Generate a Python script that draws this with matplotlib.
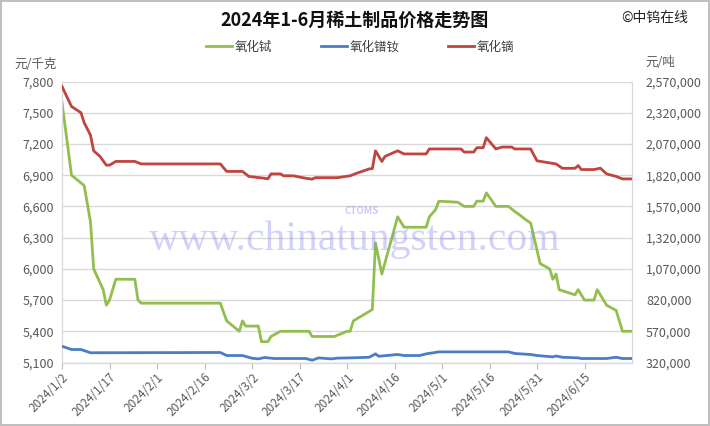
import matplotlib
matplotlib.use("Agg")
import matplotlib.pyplot as plt
import matplotlib.ticker as mticker
import pandas as pd

plt.rcParams['font.family'] = ['Noto Sans CJK SC', 'DejaVu Sans']

# 氧化铽 (元/千克, left axis)
tb_dates = ['2024-01-02', '2024-01-05', '2024-01-09', '2024-01-11', '2024-01-12', '2024-01-15',
            '2024-01-16', '2024-01-17', '2024-01-19', '2024-01-25', '2024-01-26', '2024-01-27',
            '2024-02-21', '2024-02-23', '2024-02-27', '2024-02-28', '2024-02-29', '2024-03-04',
            '2024-03-05', '2024-03-07', '2024-03-08', '2024-03-11', '2024-03-20', '2024-03-21',
            '2024-03-28', '2024-04-01', '2024-04-02', '2024-04-03', '2024-04-08', '2024-04-09',
            '2024-04-10', '2024-04-12', '2024-04-17', '2024-04-19', '2024-04-26', '2024-04-27',
            '2024-04-29', '2024-04-30', '2024-05-06', '2024-05-08', '2024-05-11', '2024-05-12',
            '2024-05-14', '2024-05-15', '2024-05-18', '2024-05-22', '2024-05-24', '2024-05-25',
            '2024-05-28', '2024-05-29', '2024-06-01', '2024-06-04', '2024-06-05', '2024-06-06',
            '2024-06-07', '2024-06-12', '2024-06-13', '2024-06-15', '2024-06-18', '2024-06-19',
            '2024-06-22', '2024-06-25', '2024-06-27', '2024-06-30']
tb_price = [7600, 6900, 6800, 6450, 6000, 5800,
            5650, 5700, 5900, 5900, 5700, 5670,
            5670, 5500, 5400, 5500, 5450, 5450,
            5300, 5300, 5350, 5400, 5400, 5350,
            5350, 5400, 5400, 5500, 5590, 5610,
            6250, 5950, 6500, 6400, 6400, 6500,
            6570, 6650, 6640, 6600, 6600, 6650,
            6650, 6730, 6600, 6600, 6550, 6530,
            6460, 6440, 6050, 6000, 5900, 5950,
            5800, 5750, 5800, 5700, 5700, 5800,
            5650, 5600, 5400, 5400]

# 氧化镨钕 (元/吨, right axis)
prnd_dates = ['2024-01-02', '2024-01-05', '2024-01-08', '2024-01-11', '2024-02-21', '2024-02-23',
              '2024-02-28', '2024-03-02', '2024-03-04', '2024-03-06', '2024-03-09', '2024-03-19',
              '2024-03-21', '2024-03-23', '2024-03-27', '2024-03-29', '2024-04-02', '2024-04-08',
              '2024-04-10', '2024-04-11', '2024-04-17', '2024-04-19', '2024-04-24', '2024-04-26',
              '2024-04-30', '2024-05-22', '2024-05-24', '2024-05-29', '2024-05-31', '2024-06-05',
              '2024-06-06', '2024-06-08', '2024-06-13', '2024-06-14', '2024-06-22', '2024-06-25',
              '2024-06-27', '2024-06-30']
prnd_price = [450000, 424000, 424000, 398000, 400000, 376000,
              376000, 354000, 349000, 360000, 352000, 352000,
              338000, 357000, 349000, 355000, 357000, 362000,
              389000, 370000, 384000, 376000, 376000, 389000,
              405000, 405000, 392000, 384000, 376000, 365000,
              372000, 362000, 357000, 352000, 352000, 362000,
              352000, 352000]

# 氧化镝 (元/吨, right axis)
dy_dates = ['2024-01-02', '2024-01-05', '2024-01-08', '2024-01-09', '2024-01-11', '2024-01-12',
            '2024-01-14', '2024-01-16', '2024-01-17', '2024-01-19', '2024-01-25', '2024-01-27',
            '2024-02-21', '2024-02-23', '2024-02-28', '2024-03-01', '2024-03-06', '2024-03-07',
            '2024-03-08', '2024-03-11', '2024-03-12', '2024-03-15', '2024-03-19', '2024-03-21',
            '2024-03-22', '2024-03-29', '2024-04-02', '2024-04-04', '2024-04-08', '2024-04-09',
            '2024-04-10', '2024-04-12', '2024-04-13', '2024-04-17', '2024-04-19', '2024-04-26',
            '2024-04-27', '2024-05-07', '2024-05-08', '2024-05-11', '2024-05-12', '2024-05-14',
            '2024-05-15', '2024-05-18', '2024-05-20', '2024-05-23', '2024-05-24', '2024-05-29',
            '2024-05-31', '2024-06-06', '2024-06-08', '2024-06-12', '2024-06-13', '2024-06-14',
            '2024-06-18', '2024-06-20', '2024-06-22', '2024-06-25', '2024-06-27', '2024-06-30']
dy_price = [2530000, 2370000, 2320000, 2240000, 2140000, 2015000,
            1970000, 1900000, 1900000, 1930000, 1930000, 1910000,
            1910000, 1850000, 1850000, 1810000, 1795000, 1790000,
            1830000, 1830000, 1815000, 1815000, 1795000, 1788000,
            1800000, 1800000, 1815000, 1835000, 1870000, 1872000,
            2015000, 1930000, 1970000, 2015000, 1990000, 1990000,
            2030000, 2030000, 2005000, 2005000, 2040000, 2040000,
            2120000, 2030000, 2045000, 2045000, 2030000, 2030000,
            1935000, 1910000, 1875000, 1875000, 1897000, 1865000,
            1865000, 1876000, 1830000, 1810000, 1790000, 1790000]

tick_dates = ['2024-01-02', '2024-01-17', '2024-02-01', '2024-02-16', '2024-03-02', '2024-03-17',
              '2024-04-01', '2024-04-16', '2024-05-01', '2024-05-16', '2024-05-31', '2024-06-15']
tick_labels = ['2024/1/2', '2024/1/17', '2024/2/1', '2024/2/16', '2024/3/2', '2024/3/17',
               '2024/4/1', '2024/4/16', '2024/5/1', '2024/5/16', '2024/5/31', '2024/6/15']

green = '#92BE4E'
blue = '#4A7DC4'
red = '#C0443F'
grid_c = '#D9D9D9'
txt_c = '#595959'

fig = plt.figure(figsize=(7.1, 4.26), dpi=100)
fig.patch.set_edgecolor('#BFBFBF')
fig.patch.set_linewidth(1.5)
ax = fig.add_axes([62/710, 1-362.5/426, 570/710, 281/426])
ax2 = ax.twinx()

l1, = ax.plot(pd.to_datetime(tb_dates), tb_price, color=green, lw=2.0, label='氧化铽', zorder=3)
l2, = ax2.plot(pd.to_datetime(prnd_dates), prnd_price, color=blue, lw=2.0, label='氧化镨钕', zorder=3)
l3, = ax2.plot(pd.to_datetime(dy_dates), dy_price, color=red, lw=2.0, label='氧化镝', zorder=3)

ax.set_xlim(pd.Timestamp('2024-01-02'), pd.Timestamp('2024-06-30'))
ax.set_ylim(5100, 7800)
ax.set_yticks(range(5100, 7801, 300))
ax2.set_ylim(320000, 2570000)
ax2.set_yticks(range(320000, 2570001, 250000))
fmt = mticker.FuncFormatter(lambda v, p: f'{int(v):,}')
ax.yaxis.set_major_formatter(fmt)
ax2.yaxis.set_major_formatter(fmt)

ax.set_xticks(pd.to_datetime(tick_dates))
ax.set_xticklabels(tick_labels, rotation=45, ha='right', rotation_mode='anchor')

ax.grid(axis='y', color=grid_c, lw=1.0)
ax.set_axisbelow(True)
for a in (ax, ax2):
    for s in a.spines.values():
        s.set_color(grid_c)
ax.spines['top'].set_visible(False)
ax2.spines['top'].set_visible(False)
ax.spines['bottom'].set_color('#BFBFBF')

ax.tick_params(axis='y', length=0, labelsize=9, labelcolor=txt_c, pad=6)
ax2.tick_params(axis='y', length=0, labelsize=9, labelcolor=txt_c, pad=10)
ax.tick_params(axis='x', length=4, color='#BFBFBF', labelsize=8.5, labelcolor=txt_c, pad=2)

fig.text(0.5, 1-20/426, '2024年1-6月稀土制品价格走势图', ha='center', va='center',
         fontsize=13, fontweight='bold', color='#111111')
fig.text(655/710, 1-18/426, '©中钨在线', ha='center', va='center', fontsize=10, color='#222222')
fig.text(36/710, 1-65/426, '元/千克', ha='center', va='center', fontsize=9, color=txt_c)
fig.text(660/710, 1-62/426, '元/吨', ha='center', va='center', fontsize=9, color=txt_c)

# watermark
fig.text(355/710, 1-240/426, 'www.chinatungsten.com', ha='center', va='center', fontsize=30,
         family=['Liberation Serif', 'DejaVu Serif'], color='#8080F0', alpha=0.35, zorder=0)
fig.text(362/710, 1-211/426, 'CTOMS', ha='center', va='center', fontsize=7, fontstyle='italic',
         fontweight='bold', color='#8080F0', alpha=0.4)

fig.legend(handles=[l1, l2, l3], loc='center', bbox_to_anchor=(360/710, 1-47/426), ncol=3,
           frameon=False, fontsize=9, handlelength=2.1, columnspacing=3.9, handletextpad=0.2,
           labelcolor='#404040')

fig.savefig('out.png', dpi=100)
